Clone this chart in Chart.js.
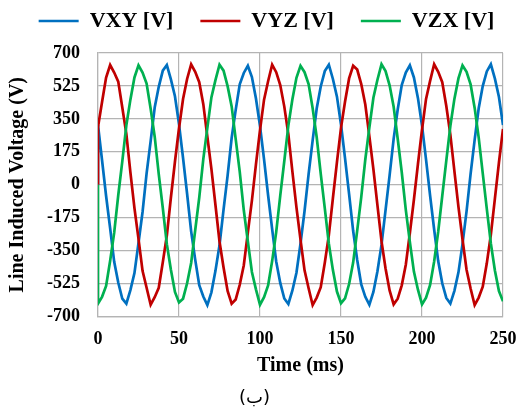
<!DOCTYPE html>
<html>
<head>
<meta charset="utf-8">
<script src="https://cdn.jsdelivr.net/npm/chart.js@4.4.0/dist/chart.umd.min.js"></script>
<style>
  html, body { margin: 0; padding: 0; background: #fff; }
</style>
</head>
<body>
<canvas id="chart" width="520" height="412"></canvas>
<script>
// time axis in ms (first point repeated so each trace rises from 0 at t=0)
const timeMs = [
  0,
  0, 2.5, 5, 7.5, 10, 12.5, 15, 17.5, 20, 22.5, 25, 27.5, 30, 32.5, 35, 37.5, 40, 42.5, 45, 47.5,
  50, 52.5, 55, 57.5, 60, 62.5, 65, 67.5, 70, 72.5, 75, 77.5, 80, 82.5, 85, 87.5, 90, 92.5, 95, 97.5,
  100, 102.5, 105, 107.5, 110, 112.5, 115, 117.5, 120, 122.5, 125, 127.5, 130, 132.5, 135, 137.5, 140, 142.5, 145, 147.5,
  150, 152.5, 155, 157.5, 160, 162.5, 165, 167.5, 170, 172.5, 175, 177.5, 180, 182.5, 185, 187.5, 190, 192.5, 195, 197.5,
  200, 202.5, 205, 207.5, 210, 212.5, 215, 217.5, 220, 222.5, 225, 227.5, 230, 232.5, 235, 237.5, 240, 242.5, 245, 247.5,
  250
];

const vxy = [
  0,
  317, 130, -60, -232, -410, -520, -606, -632, -560, -470, -310, -145, 60, 232, 410, 520, 606, 636, 560, 470,
  322, 142, -48, -248, -398, -534, -594, -640, -572, -458, -322, -132, 48, 248, 398, 534, 594, 632, 572, 458,
  312, 135, -56, -236, -408, -522, -605, -634, -562, -468, -314, -140, 56, 236, 405, 522, 604, 638, 562, 468,
  320, 140, -50, -245, -400, -530, -596, -638, -570, -460, -320, -135, 50, 244, 400, 530, 596, 634, 570, 460,
  315, 133, -58, -238, -406, -524, -602, -632, -564, -466, -316, -142, 58, 238, 406, 524, 602, 640, 564, 466,
  317
];

const vyz = [
  0,
  306, 440, 570, 636, 596, 548, 410, 270, 66, -124, -288, -458, -548, -638, -598, -548, -412, -270, -68, 122,
  300, 455, 562, 640, 600, 545, 428, 255, 84, -108, -302, -440, -565, -632, -610, -532, -428, -255, -85, 108,
  290, 452, 550, 638, 598, 530, 415, 268, 70, -120, -292, -455, -550, -640, -600, -545, -415, -268, -72, 120,
  302, 442, 565, 632, 612, 535, 426, 258, 82, -110, -300, -445, -562, -636, -606, -535, -425, -258, -80, 110,
  292, 456, 552, 640, 600, 545, 418, 266, 72, -118, -290, -452, -552, -640, -600, -542, -418, -266, -74, 118,
  296
];

const vzx = [
  0,
  -632, -596, -538, -404, -255, -56, 124, 316, 452, 570, 634, 596, 538, 404, 255, 56, -124, -316, -452, -570,
  -626, -606, -524, -416, -242, -68, 136, 302, 464, 556, 638, 606, 524, 416, 242, 68, -136, -302, -464, -556,
  -638, -598, -535, -406, -252, -58, 126, 314, 454, 568, 632, 598, 535, 406, 252, 58, -126, -314, -454, -568,
  -630, -604, -528, -414, -244, -66, 134, 304, 462, 558, 640, 604, 528, 414, 244, 66, -134, -304, -462, -558,
  -636, -600, -533, -408, -250, -60, 128, 312, 456, 565, 634, 600, 533, 408, 250, 60, -128, -312, -456, -565,
  -620
];

const seriesNames = ['VXY [V]', 'VYZ [V]', 'VZX [V]'];
const seriesColors = ['#0070C0', '#C00000', '#00B050'];
const xTicks = [0, 50, 100, 150, 200, 250];
const yTicks = [-700, -525, -350, -175, 0, 175, 350, 525, 700];

const serif = '"Liberation Serif", "Times New Roman", serif';
const gridColor = '#b4b4b4';

function toPoints(values) {
  return values.map((v, i) => ({ x: timeMs[i], y: v }));
}

// legend kept on one row with a fixed height, then nudged into place
const layoutFix = {
  id: 'layoutFix',
  beforeInit(chart) {
    const fit = chart.legend.fit;
    chart.legend.fit = function () {
      this.maxWidth = 700;
      fit.call(this);
      this.height = 53;
    };
  },
  afterLayout(chart) {
    const lg = chart.legend;
    // widen the box both ways so the last item stays on the row
    lg.left -= 8;
    lg.right += 32;
    lg.top -= 17;
    lg.bottom -= 17;
  }
};

const data = [vxy, vyz, vzx];

new Chart(document.getElementById('chart'), {
  type: 'line',
  data: {
    datasets: data.map((vals, i) => ({
      label: seriesNames[i],
      data: toPoints(vals),
      borderColor: seriesColors[i],
      backgroundColor: seriesColors[i],
      borderWidth: 2.7,
      pointRadius: 0,
      tension: 0,
      order: 2 - i
    }))
  },
  options: {
    responsive: false,
    animation: false,
    layout: { padding: { left: 6, right: 17, top: 0, bottom: 0 } },
    plugins: {
      legend: {
        position: 'top',
        labels: {
          usePointStyle: true,
          pointStyle: 'line',
          pointStyleWidth: 40,
          padding: 27,
          textAlign: 'left',
          color: '#000',
          font: { family: serif, size: 22, weight: 'bold' },
          sort: (a, b) => a.datasetIndex - b.datasetIndex
        }
      },
      title: {
        display: true,
        position: 'bottom',
        text: '(ب)',
        color: '#000',
        font: { family: '"DejaVu Sans", sans-serif', size: 18, weight: 'normal' },
        padding: { top: 10, bottom: 3 }
      },
      tooltip: { enabled: false }
    },
    scales: {
      x: {
        type: 'linear',
        min: 0,
        max: 250,
        afterFit(scale) {
          scale.height = 61;
          scale.paddingLeft = 0;
          scale.paddingRight = 0;
        },
        afterBuildTicks(scale) { scale.ticks = xTicks.map(v => ({ value: v })); },
        ticks: {
          padding: 12,
          maxRotation: 0,
          color: '#000',
          font: { family: serif, size: 18, weight: 'bold' }
        },
        grid: { color: gridColor, lineWidth: 1.2, drawTicks: false },
        border: { color: gridColor, width: 1.2 },
        title: {
          display: true,
          text: 'Time (ms)',
          color: '#000',
          font: { family: serif, size: 20, weight: 'bold' },
          padding: 0
        }
      },
      y: {
        min: -700,
        max: 700,
        afterFit(scale) {
          scale.width = 92;
          scale.paddingTop = 0;
          scale.paddingBottom = 0;
        },
        afterBuildTicks(scale) { scale.ticks = yTicks.map(v => ({ value: v })); },
        ticks: {
          padding: 18,
          color: '#000',
          font: { family: serif, size: 18, weight: 'bold' }
        },
        grid: { color: gridColor, lineWidth: 1.2, drawTicks: false },
        border: { color: gridColor, width: 1.2 },
        title: {
          display: true,
          text: 'Line Induced Voltage (V)',
          color: '#000',
          font: { family: serif, size: 20, weight: 'bold' },
          padding: { top: 0, bottom: 0 }
        }
      }
    }
  },
  plugins: [layoutFix]
});
</script>
</body>
</html>
